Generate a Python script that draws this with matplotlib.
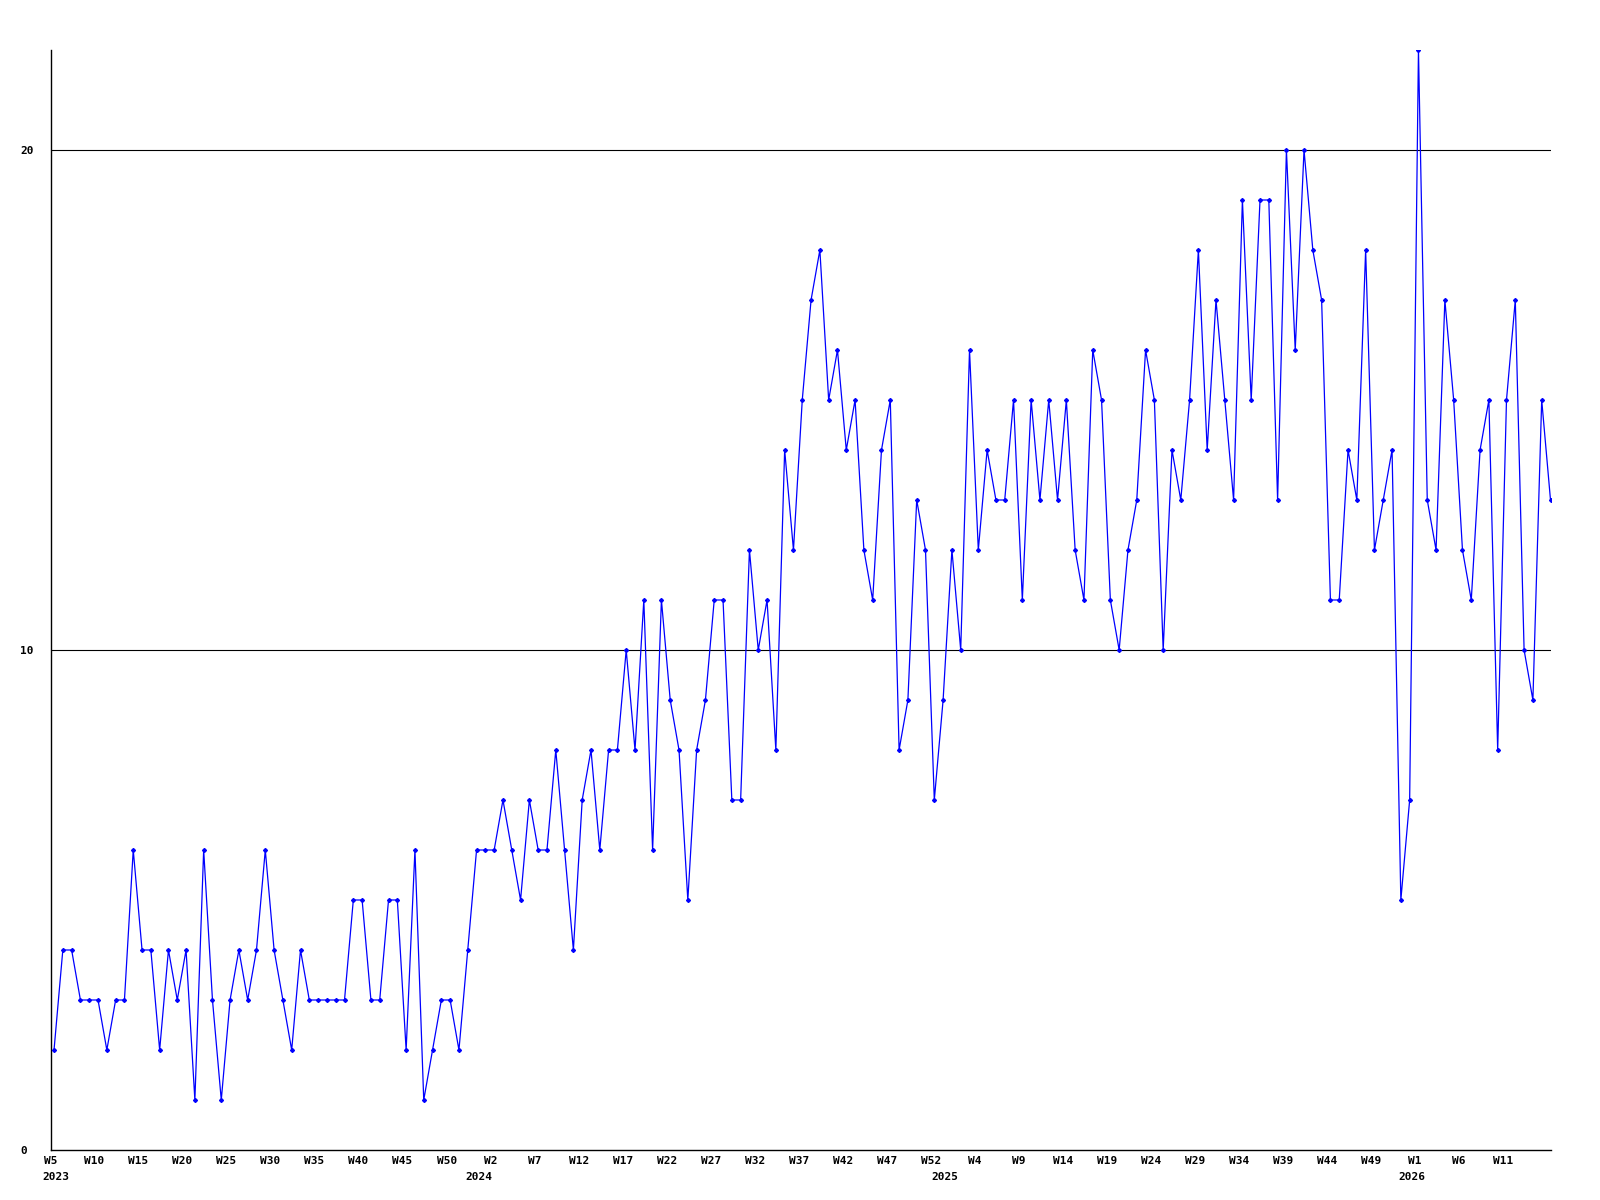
import matplotlib
matplotlib.use("Agg")
import matplotlib.pyplot as plt
import matplotlib.transforms as mtransforms

# weekly values, 2023 W5 .. 2026 W16
values = [
    2, 4, 4, 3, 3, 3, 2, 3, 3, 6, 4, 4, 2, 4, 3, 4, 1, 6, 3, 1, 3, 4, 3, 4, 6, 4, 3, 2, 4, 3,
    3, 3, 3, 3, 5, 5, 3, 3, 5, 5, 2, 6, 1, 2, 3, 3, 2, 4, 6, 6, 6, 7, 6, 5, 7, 6, 6, 8, 6,
    4, 7, 8, 6, 8, 8, 10, 8, 11, 6, 11, 9, 8, 5, 8, 9, 11, 11, 7, 7, 12, 10, 11, 8, 14, 12, 15, 17, 18, 15,
    16, 14, 15, 12, 11, 14, 15, 8, 9, 13, 12, 7, 9, 12, 10, 16, 12, 14, 13, 13, 15, 11, 15, 13, 15, 13, 15, 12, 11,
    16, 15, 11, 10, 12, 13, 16, 15, 10, 14, 13, 15, 18, 14, 17, 15, 13, 19, 15, 19, 19, 13, 20, 16, 20, 18, 17, 11, 11, 14,
    13, 18, 12, 13, 14, 5, 7, 22, 13, 12, 17, 15, 12, 11, 14, 15, 8, 15, 17, 10, 9, 15, 13,
]

week_labels = ["W5", "W10", "W15", "W20", "W25", "W30", "W35", "W40", "W45", "W50",
               "W2", "W7", "W12", "W17", "W22", "W27", "W32", "W37", "W42", "W47", "W52",
               "W4", "W9", "W14", "W19", "W24", "W29", "W34", "W39", "W44", "W49",
               "W1", "W6", "W11"]
week_label_index = list(range(0, 5 * len(week_labels), 5))

years = ["2023", "2024", "2025", "2026"]
year_index = [0, 49, 102, 155]

y_ticks = [0, 10, 20]

FONT = "DejaVu Sans Mono"

fig = plt.figure(figsize=(16, 12), dpi=100)
ax = fig.add_axes([50.5 / 1600, 50 / 1200, 1500 / 1600, 1100 / 1200])

x = list(range(len(values)))
ax.plot(x, values, color="#0000ff", lw=0.9, marker="D", ms=2.0,
        mec="#0000ff", mfc="#0000ff", zorder=3)

ax.set_xlim(0, len(values) - 1)
ax.set_ylim(0, 22)

for s in ["top", "right"]:
    ax.spines[s].set_visible(False)
for s in ["left", "bottom"]:
    ax.spines[s].set_color("black")
    ax.spines[s].set_linewidth(1.0)

ax.set_yticks(y_ticks)
ax.set_yticklabels([str(v) for v in y_ticks], fontfamily=FONT, fontweight="bold", fontsize=8)
ax.tick_params(axis="y", length=0, pad=22)
for lbl in ax.get_yticklabels():
    lbl.set_horizontalalignment("left")

for v in y_ticks[1:]:
    ax.axhline(v, color="black", lw=0.8, zorder=1)

ax.set_xticks([i - 0.4 for i in week_label_index])
ax.set_xticklabels(week_labels, fontfamily=FONT, fontweight="bold", fontsize=8)
ax.tick_params(axis="x", length=0, pad=4.5)

trans = mtransforms.blended_transform_factory(ax.transData, ax.transAxes)
for yr, xi in zip(years, year_index):
    if xi == 0:
        ax.annotate(yr, xy=(0, 0), xycoords=trans, xytext=(-8.5, -19.5),
                    textcoords="offset points", ha="left", va="center",
                    fontfamily=FONT, fontweight="bold", fontsize=8)
    else:
        ax.annotate(yr, xy=(xi - 0.75, 0), xycoords=trans, xytext=(0, -19.5),
                    textcoords="offset points", ha="center", va="center",
                    fontfamily=FONT, fontweight="bold", fontsize=8)

fig.savefig("out.png", dpi=100, facecolor="white")
